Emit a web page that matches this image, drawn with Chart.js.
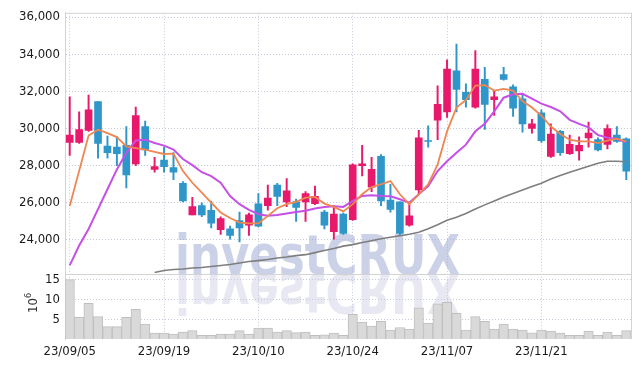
<!DOCTYPE html>
<html>
<head>
<meta charset="utf-8">
<script src="https://cdn.jsdelivr.net/npm/chart.js@4"></script>
<style>
  html, body { margin: 0; padding: 0; background: #fff; }
  #wrap { width: 639px; height: 367px; }
</style>
</head>
<body>
<div id="wrap"><canvas id="stockChart"></canvas></div>
<script>
// trading days
const dates = [
  '23/09/05', '23/09/06', '23/09/07', '23/09/08', '23/09/11', '23/09/12', '23/09/13', '23/09/14', '23/09/15', '23/09/18',
  '23/09/19', '23/09/20', '23/09/21', '23/09/22', '23/09/25', '23/09/26', '23/09/27', '23/10/04', '23/10/05', '23/10/06',
  '23/10/10', '23/10/11', '23/10/12', '23/10/13', '23/10/16', '23/10/17', '23/10/18', '23/10/19', '23/10/20', '23/10/23',
  '23/10/24', '23/10/25', '23/10/26', '23/10/27', '23/10/30', '23/10/31', '23/11/01', '23/11/02', '23/11/03', '23/11/06',
  '23/11/07', '23/11/08', '23/11/09', '23/11/10', '23/11/13', '23/11/14', '23/11/15', '23/11/16', '23/11/17', '23/11/20',
  '23/11/21', '23/11/22', '23/11/23', '23/11/24', '23/11/27', '23/11/28', '23/11/29', '23/11/30', '23/12/01', '23/12/04'
];
const xTickLabels = ['23/09/05', '23/09/19', '23/10/10', '23/10/24', '23/11/07', '23/11/21'];
const priceTicks = [24000, 26000, 28000, 30000, 32000, 34000, 36000];
const volumeTicks = [5, 10, 15];

const opens = [
  29250, 29250, 29900, 31450, 29050, 29000, 29100, 28100, 30100, 27800,
  28300, 27900, 27050, 25350, 25850, 25600, 24550, 24600, 25050, 24800,
  25950, 25850, 26950, 26050, 26050, 26050, 25950, 25500, 24450, 25400,
  25100, 28000, 26850, 28500, 26150, 26050, 24800, 26700, 29350, 30450,
  30900, 33100, 31950, 31150, 32650, 31550, 32900, 32250, 31600, 30000,
  30850, 28500, 29850, 28650, 28800, 29500, 29400, 29150, 29650, 29450
];
const highs = [
  31700, 30900, 31800, 31450, 29600, 29550, 30100, 31150, 30400, 28450,
  29000, 28700, 27150, 26300, 26000, 26100, 25250, 24750, 25500, 25450,
  26500, 26950, 27050, 27300, 26200, 26600, 26900, 25600, 25850, 25450,
  28100, 29100, 28450, 28600, 27000, 26050, 26000, 29900, 30150, 32300,
  33700, 34550, 32400, 34200, 33300, 32050, 33300, 32350, 31900, 30500,
  31000, 30250, 29900, 29650, 29550, 30350, 29500, 30200, 30100, 29500
];
const lows = [
  28550, 29200, 29850, 28400, 28400, 28000, 26800, 28000, 28550, 27650,
  27650, 27250, 26050, 25350, 25250, 24650, 24300, 24050, 23900, 24250,
  24700, 25600, 25850, 25800, 25000, 25000, 25900, 24600, 24050, 24300,
  25050, 27450, 26600, 25850, 25500, 24250, 24750, 26450, 29000, 29400,
  30600, 30900, 31150, 31100, 29950, 30700, 32600, 30650, 29800, 29750,
  29250, 28450, 28550, 28600, 28300, 29000, 28800, 28900, 29250, 27250
];
const closes = [
  29650, 29950, 31000, 29200, 28700, 28650, 27500, 30700, 28850, 27950,
  27950, 27650, 26100, 25800, 25350, 24900, 25150, 24250, 24650, 25350,
  24750, 26250, 26350, 26650, 25750, 26500, 26350, 24800, 25400, 24350,
  28050, 28100, 27800, 26100, 25650, 24350, 25300, 29500, 29300, 31300,
  33200, 32100, 31550, 33200, 31300, 31700, 32650, 31100, 30250, 30250,
  29350, 29700, 28700, 29150, 29100, 29750, 28850, 30000, 29300, 27700
];
// volume, millions of shares
const volumes = [
  15.0, 5.5, 9.0, 5.65, 3.15, 3.15, 5.5, 7.5, 3.75, 1.5,
  1.5, 1.25, 1.75, 2.1, 0.9, 0.9, 1.25, 1.25, 2.1, 1.25,
  2.75, 2.75, 1.75, 2.1, 1.6, 1.75, 0.9, 1.07, 1.5, 0.9,
  6.25, 4.25, 3.25, 4.5, 2.25, 2.9, 2.5, 7.9, 4.0, 8.9,
  9.25, 6.5, 2.25, 5.65, 4.5, 2.5, 3.75, 2.5, 2.25, 1.58,
  2.25, 2.0, 1.5, 0.9, 0.9, 2.0, 0.9, 1.75, 0.9, 2.1
];
// moving average lines
const ma5 = [
  25830, 27720, 29620, 29940, 29750, 29540, 29040, 28950, 28870, 28740,
  28630, 28650, 27710, 27080, 26550, 26010, 25480, 25180, 24940, 24890,
  24890, 25300, 25710, 25930, 26050, 26280, 26320, 25960, 25780, 25540,
  25930, 26460, 26850, 27000, 27170, 26460, 25930, 26460, 27000, 28060,
  29850, 31130, 31540, 32310, 32340, 32040, 32130, 32040, 31480, 31130,
  30700, 30110, 29710, 29400, 29310, 29310, 29220, 29350, 29460, 29300
];
const ma10 = [
  22630, 23700, 24590, 25660, 26730, 27800, 28690, 29360, 29400, 29220,
  29080, 28870, 28360, 28030, 27650, 27440, 27080, 26370, 25930, 25620,
  25390, 25300, 25340, 25420, 25510, 25570, 25690, 25780, 25820, 25780,
  26100, 26370, 26410, 26370, 26350, 26190, 26010, 26460, 26900, 27710,
  28240, 28690, 29130, 29850, 30250, 30920, 31660, 31840, 31870, 31610,
  31340, 31160, 30930, 30470, 30250, 30060, 29650, 29510, 29440, 29260
];
const ma60 = [
  null, null, null, null, null, null, null, null, null, 22250,
  22360, 22410, 22440, 22490, 22520, 22570, 22630, 22680, 22760, 22840,
  22890, 22950, 23030, 23080, 23160, 23210, 23320, 23430, 23540, 23670,
  23750, 23860, 23960, 24070, 24150, 24230, 24310, 24420, 24600, 24820,
  25060, 25220, 25430, 25670, 25890, 26100, 26320, 26500, 26690, 26880,
  27060, 27280, 27470, 27650, 27810, 27970, 28130, 28240, 28240, 28210
];

const UP_COLOR = '#e8196a';
const DOWN_COLOR = '#2f96c9';
const GRID_COLOR = '#c6c9da';
const FRAME_COLOR = '#d3d3d3';
const TICK_FONT = { family: "'DejaVu Sans Condensed', 'DejaVu Sans', sans-serif", size: 13 };

const candleColors = closes.map((c, i) => (c >= opens[i] ? UP_COLOR : DOWN_COLOR));

// frame lines, watermark and the 10^6 unit label
const decorations = {
    id: 'decorations',
    beforeDatasetsDraw(chart) {
        const { ctx, chartArea } = chart;
        const base = chart.scales.y.bottom;
        const text = 'investCRUX';
        ctx.save();
        ctx.font = 'bold 55px "DejaVu Sans"';
        const sx = 285 / ctx.measureText(text).width;
        ctx.save();
        ctx.translate(175, base);
        ctx.scale(sx, 1);
        ctx.fillStyle = 'rgba(160, 172, 212, 0.55)';
        ctx.fillText(text, 0, 0);
        ctx.restore();
        // reflection in the volume panel
        ctx.beginPath();
        ctx.rect(chartArea.left, base, chartArea.right - chartArea.left, chartArea.bottom - base);
        ctx.clip();
        ctx.translate(175, base);
        ctx.scale(sx, -1);
        ctx.fillStyle = 'rgba(200, 200, 226, 0.42)';
        ctx.fillText(text, 0, 0);
        ctx.restore();
    },
    afterDraw(chart) {
        const { ctx, chartArea } = chart;
        const sep = chart.scales.y.bottom;
        ctx.save();
        ctx.strokeStyle = FRAME_COLOR;
        ctx.lineWidth = 1;
        ctx.beginPath();
        ctx.moveTo(chartArea.left, chartArea.top + 0.5);
        ctx.lineTo(chartArea.right, chartArea.top + 0.5);
        ctx.moveTo(chartArea.right + 0.5, chartArea.top);
        ctx.lineTo(chartArea.right + 0.5, chartArea.bottom);
        ctx.moveTo(chartArea.left, Math.round(sep) + 0.5);
        ctx.lineTo(chartArea.right, Math.round(sep) + 0.5);
        ctx.stroke();

        ctx.fillStyle = '#333';
        ctx.translate(37, 313);
        ctx.rotate(-Math.PI / 2);
        ctx.textAlign = 'left';
        ctx.textBaseline = 'alphabetic';
        ctx.font = "13px 'DejaVu Sans Condensed', 'DejaVu Sans', sans-serif";
        ctx.fillText('10', 0, 0);
        ctx.font = "9px 'DejaVu Sans Condensed', 'DejaVu Sans', sans-serif";
        ctx.fillText('6', 15, -6);
        ctx.restore();
    }
};

const ctx = document.getElementById('stockChart').getContext('2d');
new Chart(ctx, {
    type: 'bar',
    data: {
        labels: dates,
        datasets: [
            {
                type: 'line',
                label: 'MA5',
                data: ma5,
                yAxisID: 'y',
                borderColor: '#ef8550',
                borderWidth: 1.8,
                pointRadius: 0,
                tension: 0
            },
            {
                type: 'line',
                label: 'MA10',
                data: ma10,
                yAxisID: 'y',
                borderColor: '#c650e6',
                borderWidth: 2,
                pointRadius: 0,
                tension: 0
            },
            {
                type: 'line',
                label: 'MA60',
                data: ma60,
                yAxisID: 'y',
                borderColor: '#7e7e7e',
                borderWidth: 1.6,
                pointRadius: 0,
                tension: 0
            },
            {
                label: 'Body',
                data: opens.map((o, i) => [o, closes[i]]),
                yAxisID: 'y',
                backgroundColor: candleColors,
                borderWidth: 0,
                barThickness: 7,
                minBarLength: 1,
                grouped: false
            },
            {
                label: 'Wick',
                data: lows.map((l, i) => [l, highs[i]]),
                yAxisID: 'y',
                backgroundColor: candleColors,
                borderWidth: 0,
                barThickness: 1.3,
                grouped: false
            },
            {
                label: 'Volume',
                data: volumes,
                yAxisID: 'yv',
                backgroundColor: '#d9d9d9',
                borderColor: '#bfbfbf',
                borderWidth: 1,
                barPercentage: 1,
                categoryPercentage: 1,
                grouped: false
            }
        ]
    },
    options: {
        responsive: true,
        maintainAspectRatio: false,
        animation: false,
        layout: { padding: { top: 10, right: 8, left: 0, bottom: 0 } },
        plugins: {
            legend: { display: false },
            tooltip: { enabled: false }
        },
        scales: {
            x: {
                offset: true,
                grid: {
                    offset: false,
                    drawTicks: false,
                    color: (c) => (xTickLabels.includes(dates[c.index]) ? GRID_COLOR : 'transparent')
                },
                border: { display: false, dash: [1, 2] },
                ticks: {
                    autoSkip: false,
                    maxRotation: 0,
                    padding: 5,
                    color: '#1a1a1a',
                    font: TICK_FONT,
                    callback: function(value, index) {
                        return xTickLabels.includes(dates[index]) ? dates[index] : '';
                    }
                },
                afterFit: (scale) => { scale.height = 28; }
            },
            yv: {
                type: 'linear',
                position: 'left',
                stack: 'panels',
                stackWeight: 1,
                min: 0,
                max: 16.5,
                afterBuildTicks: (scale) => { scale.ticks = volumeTicks.map((v) => ({ value: v })); },
                grid: { drawTicks: false, color: GRID_COLOR },
                border: { color: FRAME_COLOR, dash: [1, 2] },
                ticks: {
                    autoSkip: false,
                    padding: 5,
                    color: '#1a1a1a',
                    font: TICK_FONT
                },
                afterFit: (scale) => { scale.width = 65; }
            },
            y: {
                type: 'linear',
                position: 'left',
                stack: 'panels',
                stackWeight: 4,
                min: 22182,
                max: 36230,
                afterBuildTicks: (scale) => { scale.ticks = priceTicks.map((v) => ({ value: v })); },
                grid: { drawTicks: false, color: GRID_COLOR },
                border: { color: FRAME_COLOR, dash: [1, 2] },
                ticks: {
                    autoSkip: false,
                    padding: 5,
                    color: '#1a1a1a',
                    font: TICK_FONT,
                    callback: (value) => value.toLocaleString('en-US')
                },
                afterFit: (scale) => { scale.width = 65; }
            }
        }
    },
    plugins: [decorations]
});
</script>
</body>
</html>
